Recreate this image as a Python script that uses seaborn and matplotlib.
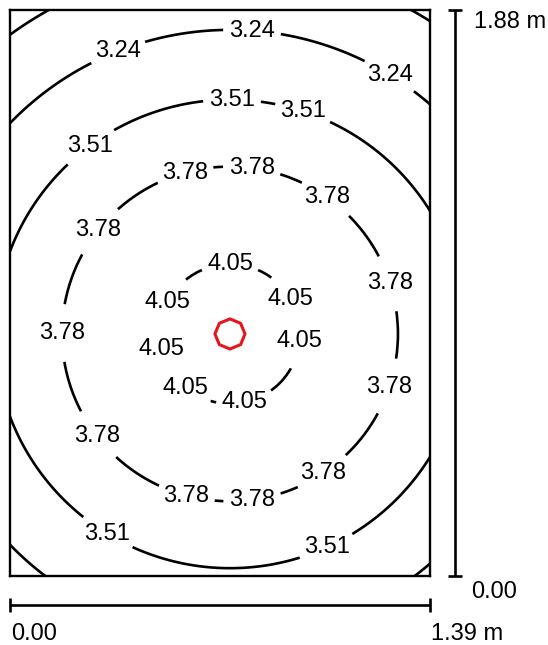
import numpy as np
import pandas as pd
import seaborn as sns
import matplotlib
matplotlib.use("Agg")
import matplotlib.pyplot as plt
from matplotlib.lines import Line2D

# ---- data ----
room_width = 1.39          # m
room_depth = 1.88          # m
luminaire_x = [0.728]
luminaire_y = [0.804]
unlabeled_levels = [2.97]
labeled_levels = [3.24, 3.51, 3.78, 4.05]
# radial illuminance profile around the luminaire (distance in m -> lux value)
profile_r = [0.0, 0.232, 0.556, 0.778, 1.010, 1.232, 1.60]
profile_e = [4.15, 4.05, 3.78, 3.51, 3.24, 2.97, 2.45]
x_tick_labels = ["0.00", "1.39 m"]
y_tick_labels = ["0.00", "1.88 m"]

# label anchor positions (pixels in the reference image)
label_px = [
    (118, 52), (252, 32), (390, 75),
    (90, 146), (232, 103), (302, 115), (108, 532), (327, 548),
    (95, 228), (186, 177), (252, 168), (327, 197), (390, 283), (58, 333),
    (390, 387), (95, 437), (187, 492), (252, 497), (323, 473),
    (230, 263), (165, 300), (292, 298), (298, 341), (160, 349), (185, 388), (245, 403),
]

W, H = 548, 645
sns.set_theme(style="white")
plt.rcParams["font.family"] = ["Liberation Sans", "DejaVu Sans"]
plt.rcParams["text.color"] = "black"

fig = plt.figure(figsize=(W / 100, H / 100), dpi=100)
fig.patch.set_facecolor("white")

L, R, T, B = 10, 430, 10, 576
ax = fig.add_axes([L / W, (H - B) / H, (R - L) / W, (B - T) / H])
ax.set_xlim(0, room_width)
ax.set_ylim(0, room_depth)
ax.set_xticks([])
ax.set_yticks([])
for s in ax.spines.values():
    s.set_visible(True)
    s.set_color("black")
    s.set_linewidth(1.7)

xs = np.linspace(0, room_width, 420)
ys = np.linspace(0, room_depth, 570)
X, Y = np.meshgrid(xs, ys)
Rr = np.hypot(X - luminaire_x[0], Y - luminaire_y[0])
E = np.interp(Rr, profile_r, profile_e)

ax.contour(X, Y, E, levels=unlabeled_levels, colors="black", linewidths=1.9)
cs = ax.contour(X, Y, E, levels=labeled_levels, colors="black", linewidths=1.9)

def px2data(px, py):
    return ((px - L) / (R - L) * room_width, (B - py) / (B - T) * room_depth)

manual = [px2data(px, py) for px, py in label_px]
labels = ax.clabel(cs, manual=manual, fmt="%.2f", fontsize=17,
                   inline=True, inline_spacing=6, colors="black")
for t in labels:
    t.set_rotation(0)

sns.scatterplot(x=luminaire_x, y=luminaire_y, ax=ax, marker=(8, 0, 0), s=470,
                color="#e8141c", facecolor="none", edgecolor="#e8141c",
                linewidth=2.2, zorder=5, legend=False)
ax.set_xlabel("")
ax.set_ylabel("")

def f(px, py):
    return (px / W, 1 - py / H)

def seg(p0, p1):
    a, b = f(*p0), f(*p1)
    fig.add_artist(Line2D([a[0], b[0]], [a[1], b[1]], transform=fig.transFigure,
                          color="black", linewidth=1.9, solid_capstyle="butt"))

# bottom scale bar
seg((L, 605), (R, 605))
seg((L, 598), (L, 612))
seg((R, 598), (R, 612))
# right scale bar
seg((455, T), (455, B))
seg((448, T), (462, T))
seg((448, B), (462, B))

fs = 17
fig.text(*f(11, 634), x_tick_labels[0], ha="left", va="center", fontsize=fs)
fig.text(*f(431, 634), x_tick_labels[1], ha="left", va="center", fontsize=fs)
fig.text(*f(471, 592), y_tick_labels[0], ha="left", va="center", fontsize=fs)
fig.text(*f(474, 22), y_tick_labels[1], ha="left", va="center", fontsize=fs)

fig.savefig("out.png", dpi=100, facecolor="white")
